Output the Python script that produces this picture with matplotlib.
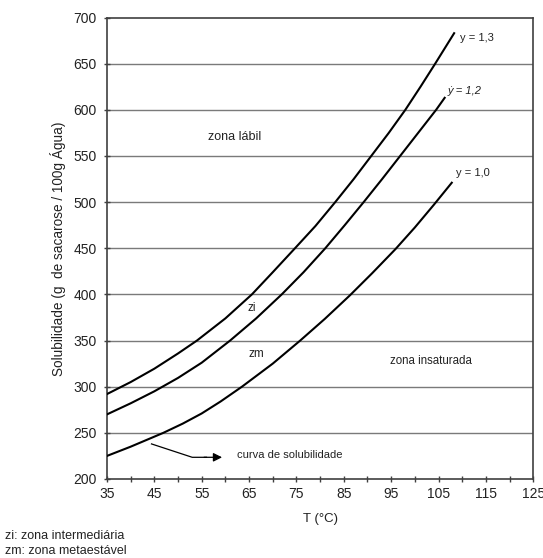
import matplotlib
matplotlib.use("Agg")
import matplotlib.pyplot as plt
import numpy as np

plt.rcParams['font.family'] = ['Liberation Sans', 'DejaVu Sans']

# Data
T_10 = [35, 40, 46.9, 51, 55, 59, 63.5, 70, 75.8, 81, 86.3, 91, 95.9, 100, 104, 107.8]
S_10 = [225, 235, 250, 260, 271, 284, 300, 325, 350, 373.5, 399, 423, 449, 472.5, 497, 521]

T_12 = [35, 40, 45, 50, 55, 61, 66.5, 71.9, 76.5, 81.1, 85.2, 89.2, 93.1, 96.9, 100.7, 104.5, 106.3]
S_12 = [270, 282, 295, 309.5, 326, 350, 374, 400, 424, 450, 475, 500, 525, 550, 575, 600, 613]

T_13 = [35, 40, 45, 50, 54, 60, 65.6, 70, 74.7, 79, 83.2, 87.1, 90.8, 94.5, 98, 101.2, 104.3, 108.3]
S_13 = [292, 305, 319.5, 336, 350, 374, 400, 424, 450, 474, 500, 525, 550, 575, 600, 625, 650, 683]

xticks = [35, 45, 55, 65, 75, 85, 95, 105, 115, 125]
yticks = [200, 250, 300, 350, 400, 450, 500, 550, 600, 650, 700]

fig = plt.figure(figsize=(5.43, 5.58), dpi=100)
ax = fig.add_axes([0.197, 0.1416, 0.785, 0.827])

for yv in yticks[1:-1]:
    ax.axhline(yv, color='#7a7a7a', lw=1.0, zorder=1)

for T, S in [(T_10, S_10), (T_12, S_12), (T_13, S_13)]:
    ax.plot(T, S, color='black', lw=1.5, zorder=3, solid_joinstyle='round')

ax.set_xlim(35, 125)
ax.set_ylim(200, 700)
ax.set_xticks(xticks)
ax.set_xticks(np.arange(40, 125, 10), minor=True)
ax.set_yticks(yticks)
ax.tick_params(axis='both', which='both', direction='inout', length=5, width=1,
               color='#404040', labelsize=10, pad=3, labelcolor='#222222')
ax.tick_params(axis='y', pad=5)
for sp in ax.spines.values():
    sp.set_color('#404040')
    sp.set_linewidth(1.2)

ax.set_xlabel('T (°C)', fontsize=9.5, color='#222222', labelpad=9)
ax.set_ylabel('Solubilidade (g  de sacarose / 100g Água)', fontsize=9.8,
              color='#222222', labelpad=5)

tc = '#222222'
ax.text(109.5, 678, 'y = 1,3', fontsize=8, color=tc, va='center', ha='left')
ax.text(107.0, 620, 'ẏ = 1,2', fontsize=8, color=tc, va='center', ha='left', style='italic')
ax.text(108.7, 531, 'y = 1,0', fontsize=8, color=tc, va='center', ha='left')

ax.text(62, 570.5, 'zona lábil', fontsize=9, color=tc, ha='center', va='center')
ax.text(65.6, 385, 'zi', fontsize=8.5, color=tc, ha='center', va='center')
ax.text(66.6, 335, 'zm', fontsize=8.5, color=tc, ha='center', va='center')
ax.text(103.4, 328, 'zona insaturada', fontsize=8.3, color=tc, ha='center', va='center')
ax.text(62.5, 226, 'curva de solubilidade', fontsize=8, color=tc, ha='left', va='center')

ax.plot([44.4, 53.0, 56.0], [238, 223.5, 223.5], color='black', lw=0.9, zorder=3)
ax.annotate('', xy=(59.3, 223.5), xytext=(55.5, 223.5),
            arrowprops=dict(arrowstyle='-|>', color='black', lw=0.9,
                            mutation_scale=13, shrinkA=0, shrinkB=0))

fig.text(0.009, 0.039, 'zi: zona intermediária', fontsize=9, color=tc, va='center')
fig.text(0.009, 0.013, 'zm: zona metaestável', fontsize=9, color=tc, va='center')

fig.savefig('out.png', dpi=100)
